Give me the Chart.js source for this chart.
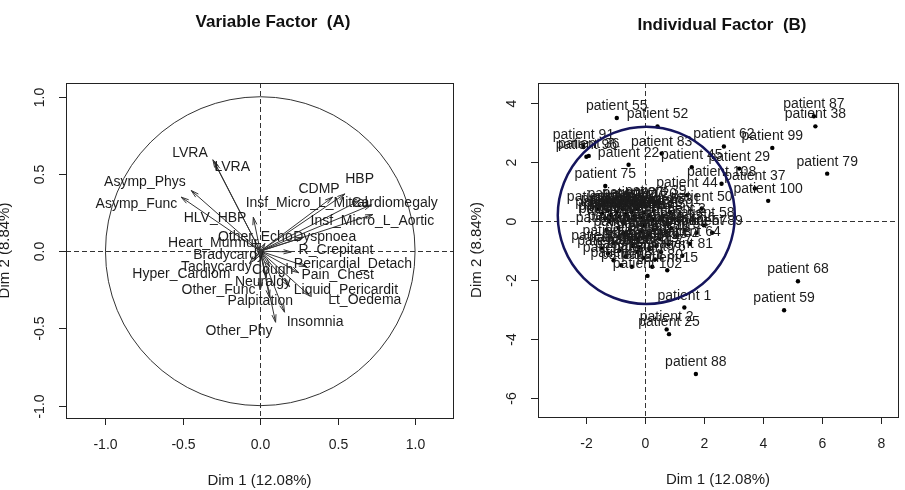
<!DOCTYPE html>
<html>
<head>
<meta charset="utf-8">
<script src="https://cdn.jsdelivr.net/npm/chart.js@4.4.1/dist/chart.umd.min.js"></script>
<style>
  html, body { margin: 0; padding: 0; background: #fff; }
  #wrap { position: relative; width: 905px; height: 490px; overflow: hidden; }
  #varChart { position: absolute; left: 0; top: 0; }
  #indChart { position: absolute; left: 455px; top: 0; }
</style>
</head>
<body>
<div id="wrap">
  <canvas id="varChart" width="455" height="490"></canvas>
  <canvas id="indChart" width="450" height="490"></canvas>
</div>
<script>
// ---- Variable factor map (A): arrow tips on Dim 1 / Dim 2 ----
const varNames = ['LVRA', 'LVRA', 'Asymp_Phys', 'Asymp_Func', 'HLV_HBP', 'Other_Echo', 'Dyspnoea',
    'Heart_Murmur', 'Bradycardy', 'R_Crepitant', 'Pericardial_Detach', 'Pain_Chest', 'Liquid_Pericardit',
    'Lt_Oedema', 'Insomnia', 'Other_Phy', 'Palpitation', 'Other_Func', 'Neuralgy', 'Cough', 'Tachycardy',
    'Hyper_Cardiom', 'CDMP', 'HBP', 'Insf_Micro_L_Mitral', 'Cardiomegaly', 'Insf_Micro_L_Aortic'];
const varDim1 = [-0.306, -0.295, -0.446, -0.511, -0.045, 0.03, 0.28, -0.03, 0.02, 0.2, 0.3, 0.25, 0.19,
    0.32, 0.157, 0.099, 0.06, 0.0, 0.04, 0.06, -0.04, -0.07, 0.467, 0.547, 0.642, 0.718, 0.728];
const varDim2 = [0.592, 0.575, 0.393, 0.35, 0.22, 0.05, 0.09, 0.03, -0.02, -0.005, -0.1, -0.14, -0.23,
    -0.29, -0.395, -0.46, -0.3, -0.25, -0.17, -0.1, -0.06, -0.08, 0.35, 0.371, 0.328, 0.3, 0.238];
// where each label ended up (autoLab moved them around)
const varLabDim1 = [-0.454, -0.181, -0.745, -0.8, -0.292, -0.032, 0.416, -0.304, -0.205, 0.489, 0.599, 0.5,
    0.553, 0.675, 0.354, -0.137, 0.0, -0.27, 0.017, 0.08, -0.284, -0.51, 0.38, 0.642, 0.3, 0.868, 0.724];
const varLabDim2 = [0.634, 0.544, 0.447, 0.307, 0.216, 0.091, 0.091, 0.052, -0.028, 0.005, -0.082, -0.157,
    -0.25, -0.319, -0.46, -0.518, -0.324, -0.25, -0.2, -0.125, -0.103, -0.146, 0.404, 0.469, 0.311, 0.313, 0.194];

const varTicks = [-1, -0.5, 0, 0.5, 1];
const varTickLabels = ['-1.0', '-0.5', '0.0', '0.5', '1.0'];

// ---- Individual factor map (B) ----
const indIds = [55, 52, 87, 38, 99, 62, 79, 100, 29, 108, 37, 45, 83, 22, 91, 96, 36, 75, 44, 50, 39, 3,
    89, 64, 81, 15, 102, 1, 2, 25, 88, 68, 59,
    4, 5, 6, 7, 8, 9, 10, 11, 12, 13, 14, 16, 17, 18, 19, 20, 21, 23, 24, 26, 27, 28, 30, 31, 32, 33,
    34, 35, 40, 41, 42, 43, 46, 47, 48, 49, 51, 53, 54, 56, 57, 58, 60, 61, 63, 65, 66, 67, 69, 70,
    71, 72, 73, 74, 76, 77, 78, 80, 82, 84];
const indDim1 = [-0.95, 0.43, 5.73, 5.78, 4.32, 2.68, 6.18, 4.18, 3.2, 2.6, 3.73, 1.59, 0.57, -0.55, -2.08,
    -1.98, -1.9, -1.34, 1.43, 1.93, 0.37, 1.16, 2.28, 1.53, 1.27, 0.76, 0.09, 1.34, 0.74, 0.82, 1.73, 5.19, 4.72,
    -1.45, -1.35, -1.25, -1.15, -1.05, -0.95, -0.85, -0.75, -0.65, -0.55, -0.45, -0.35, -0.25, -0.15, -0.05,
    0.05, 0.15, 0.3, -1.6, -0.9, -0.4, 0.25, 0.6, 0.85, -1.2, -0.7,
    -1.3, -1.07, -0.89, -0.7, -0.5, -0.3, -0.1, 0.1, 0.3, 0.5, 0.7, 0.9, 1.1, 1.35, 1.75, 2.0, 0.0, -0.4, 0.4,
    -1.45, -1.25, -1.06, -0.85, -0.65, -0.44, -0.25, -0.05, 0.15, 0.35, 0.55, -0.8, 0.25, 0.8, -0.2];
const indDim2 = [3.48, 3.2, 3.54, 3.2, 2.47, 2.52, 1.6, 0.68, 1.77, 1.26, 1.1, 1.82, 2.28, 1.9, 2.5,
    2.17, 2.2, 1.18, 0.87, 0.42, 0.61, 0.0, -0.4, -0.77, -1.18, -1.67, -1.86, -2.93, -3.67, -3.83, -5.18, -2.04, -3.02,
    0.25, 0.1, 0.35, 0.2, 0.05, 0.3, 0.15, 0.4, 0.22, 0.08, 0.3, 0.18, 0.42, 0.12, 0.28,
    0.5, 0.2, 0.35, 0.4, 0.5, 0.55, 0.05, 0.15, 0.3, 0.0, 0.0,
    -0.3, -0.75, -0.24, -0.45, -0.3, -0.6, -0.35, -0.5, -0.3, -0.6, -0.4, -0.25, -0.5, -0.3, -0.4, -0.15, -0.15, -0.85, -0.85,
    -0.93, -1.1, -1.33, -1.0, -1.2, -1.55, -1.05, -1.25, -0.95, -1.3, -1.05, -1.5, -1.55, -0.8, -0.88];

const indXTicks = [-2, 0, 2, 4, 6, 8];
const indYTicks = [-6, -4, -2, 0, 2, 4];
// the hand-added ellipse around the main group: centre Dim1, centre Dim2, radius
const groupCircle = [0.05, 0.19, 3.0];

const FONT = '"Liberation Sans", Arial, sans-serif';
const INK = '#1c1c1c';

// R base-graphics look: box, outward ticks, rotated y labels, dashed zero lines, circle
function rFrame(cfg) {
    const drawCircle = (chart) => {
        const { ctx, scales: { x, y } } = chart;
        const [c1, c2, r] = cfg.circle;
        const cx = x.getPixelForValue(c1);
        const cy = y.getPixelForValue(c2);
        const rx = x.getPixelForValue(c1 + r) - cx;
        const ry = cy - y.getPixelForValue(c2 + r);
        ctx.save();
        ctx.beginPath();
        ctx.ellipse(cx, cy, rx, ry, 0, 0, Math.PI * 2);
        ctx.strokeStyle = cfg.circleColor;
        ctx.lineWidth = cfg.circleWidth;
        ctx.stroke();
        ctx.restore();
    };

    return {
        id: 'rFrame',
        beforeDatasetsDraw(chart) {
            const { ctx, chartArea: area, scales: { x, y } } = chart;
            if (!cfg.circleOnTop) drawCircle(chart);
            ctx.save();
            ctx.setLineDash([5, 3]);
            ctx.strokeStyle = '#333';
            ctx.lineWidth = 1;
            const x0 = Math.round(x.getPixelForValue(0)) + 0.5;
            const y0 = Math.round(y.getPixelForValue(0)) + 0.5;
            ctx.beginPath();
            ctx.moveTo(x0, area.top); ctx.lineTo(x0, area.bottom);
            ctx.moveTo(area.left, y0); ctx.lineTo(area.right, y0);
            ctx.stroke();
            ctx.restore();
        },
        afterDraw(chart) {
            const { ctx, chartArea: area, scales: { x, y } } = chart;
            if (cfg.circleOnTop) drawCircle(chart);
            ctx.save();
            ctx.strokeStyle = '#222';
            ctx.lineWidth = 1;
            ctx.strokeRect(Math.round(area.left) + 0.5, Math.round(area.top) + 0.5,
                Math.round(area.right - area.left), Math.round(area.bottom - area.top));

            ctx.fillStyle = INK;
            ctx.font = '14px ' + FONT;
            ctx.textAlign = 'center';
            ctx.textBaseline = 'middle';

            // x axis
            const xs = cfg.xTicks.map(v => Math.round(x.getPixelForValue(v)) + 0.5);
            ctx.beginPath();
            ctx.moveTo(xs[0], area.bottom + 0.5); ctx.lineTo(xs[xs.length - 1], area.bottom + 0.5);
            xs.forEach(px => { ctx.moveTo(px, area.bottom); ctx.lineTo(px, area.bottom + 7); });
            ctx.stroke();
            xs.forEach((px, i) => ctx.fillText(cfg.xLabels[i], px, area.bottom + 27));

            // y axis
            const ys = cfg.yTicks.map(v => Math.round(y.getPixelForValue(v)) + 0.5);
            ctx.beginPath();
            ys.forEach(py => { ctx.moveTo(area.left, py); ctx.lineTo(area.left - 7, py); });
            ctx.stroke();
            ys.forEach((py, i) => {
                ctx.save();
                ctx.translate(area.left - 26, py);
                ctx.rotate(-Math.PI / 2);
                ctx.fillText(cfg.yLabels[i], 0, 0);
                ctx.restore();
            });

            // axis titles
            ctx.font = '15px ' + FONT;
            ctx.fillText(cfg.xTitle, (area.left + area.right) / 2, area.bottom + 63);
            ctx.save();
            ctx.translate(area.left - 61, (area.top + area.bottom) / 2);
            ctx.rotate(-Math.PI / 2);
            ctx.fillText(cfg.yTitle, 0, 0);
            ctx.restore();

            // main title
            ctx.font = 'bold 17px ' + FONT;
            ctx.fillStyle = '#111';
            ctx.fillText(cfg.title, cfg.titleX, cfg.titleY);
            ctx.restore();
        }
    };
}

// arrowheads and names for the variables
const varDecor = {
    id: 'varDecor',
    afterDatasetsDraw(chart) {
        const { ctx, scales: { x, y } } = chart;
        ctx.save();
        ctx.strokeStyle = '#333';
        ctx.lineWidth = 1;
        const ox = x.getPixelForValue(0), oy = y.getPixelForValue(0);
        varNames.forEach((name, i) => {
            const tx = x.getPixelForValue(varDim1[i]);
            const ty = y.getPixelForValue(varDim2[i]);
            const ang = Math.atan2(ty - oy, tx - ox);
            const len = 8, spread = Math.PI / 12;
            ctx.beginPath();
            ctx.moveTo(tx - len * Math.cos(ang - spread), ty - len * Math.sin(ang - spread));
            ctx.lineTo(tx, ty);
            ctx.lineTo(tx - len * Math.cos(ang + spread), ty - len * Math.sin(ang + spread));
            ctx.stroke();
        });
        ctx.fillStyle = INK;
        ctx.font = '14px ' + FONT;
        ctx.textAlign = 'center';
        ctx.textBaseline = 'middle';
        varNames.forEach((name, i) => {
            ctx.fillText(name, x.getPixelForValue(varLabDim1[i]), y.getPixelForValue(varLabDim2[i]));
        });
        ctx.restore();
    }
};

// patient names written above each point (pos = 3)
const indDecor = {
    id: 'indDecor',
    afterDatasetsDraw(chart) {
        const { ctx, scales: { x, y } } = chart;
        ctx.save();
        ctx.fillStyle = INK;
        ctx.font = '14px ' + FONT;
        ctx.textAlign = 'center';
        ctx.textBaseline = 'alphabetic';
        indIds.forEach((id, i) => {
            ctx.fillText('patient ' + id, x.getPixelForValue(indDim1[i]), y.getPixelForValue(indDim2[i]) - 8);
        });
        ctx.restore();
    }
};

const baseOptions = (pad, xr, yr) => ({
    responsive: false,
    animation: false,
    events: [],
    layout: { autoPadding: false, padding: pad },
    plugins: { legend: { display: false }, tooltip: { enabled: false } },
    scales: {
        x: { type: 'linear', min: xr[0], max: xr[1], display: false },
        y: { type: 'linear', min: yr[0], max: yr[1], display: false }
    }
});

new Chart(document.getElementById('varChart'), {
    type: 'scatter',
    data: {
        datasets: varNames.map((name, i) => ({
            label: name,
            data: [{ x: 0, y: 0 }, { x: varDim1[i], y: varDim2[i] }],
            showLine: true,
            borderColor: '#333',
            borderWidth: 1,
            pointRadius: 0,
            fill: false
        }))
    },
    options: baseOptions({ left: 66, top: 83, right: 2, bottom: 72 }, [-1.255, 1.245], [-1.08, 1.089]),
    plugins: [rFrame({
        circle: [0, 0, 1], circleColor: '#333', circleWidth: 1, circleOnTop: false,
        xTicks: varTicks, xLabels: varTickLabels, yTicks: varTicks, yLabels: varTickLabels,
        xTitle: 'Dim 1 (12.08%)', yTitle: 'Dim 2 (8.84%)',
        title: 'Variable Factor  (A)', titleX: 273, titleY: 22
    }), varDecor]
});

new Chart(document.getElementById('indChart'), {
    type: 'scatter',
    data: {
        datasets: [{
            label: 'individuals',
            data: indDim1.map((v, i) => ({ x: v, y: indDim2[i] })),
            pointRadius: 2.2,
            pointBackgroundColor: '#000',
            pointBorderWidth: 0
        }]
    },
    options: baseOptions({ left: 83, top: 83, right: 7, bottom: 73 }, [-3.62, 8.58], [-6.633, 4.666]),
    plugins: [rFrame({
        circle: groupCircle, circleColor: '#15155c', circleWidth: 2.5, circleOnTop: true,
        xTicks: indXTicks, xLabels: indXTicks.map(String), yTicks: indYTicks, yLabels: indYTicks.map(String),
        xTitle: 'Dim 1 (12.08%)', yTitle: 'Dim 2 (8.84%)',
        title: 'Individual Factor  (B)', titleX: 267, titleY: 25
    }), indDecor]
});
</script>
</body>
</html>
